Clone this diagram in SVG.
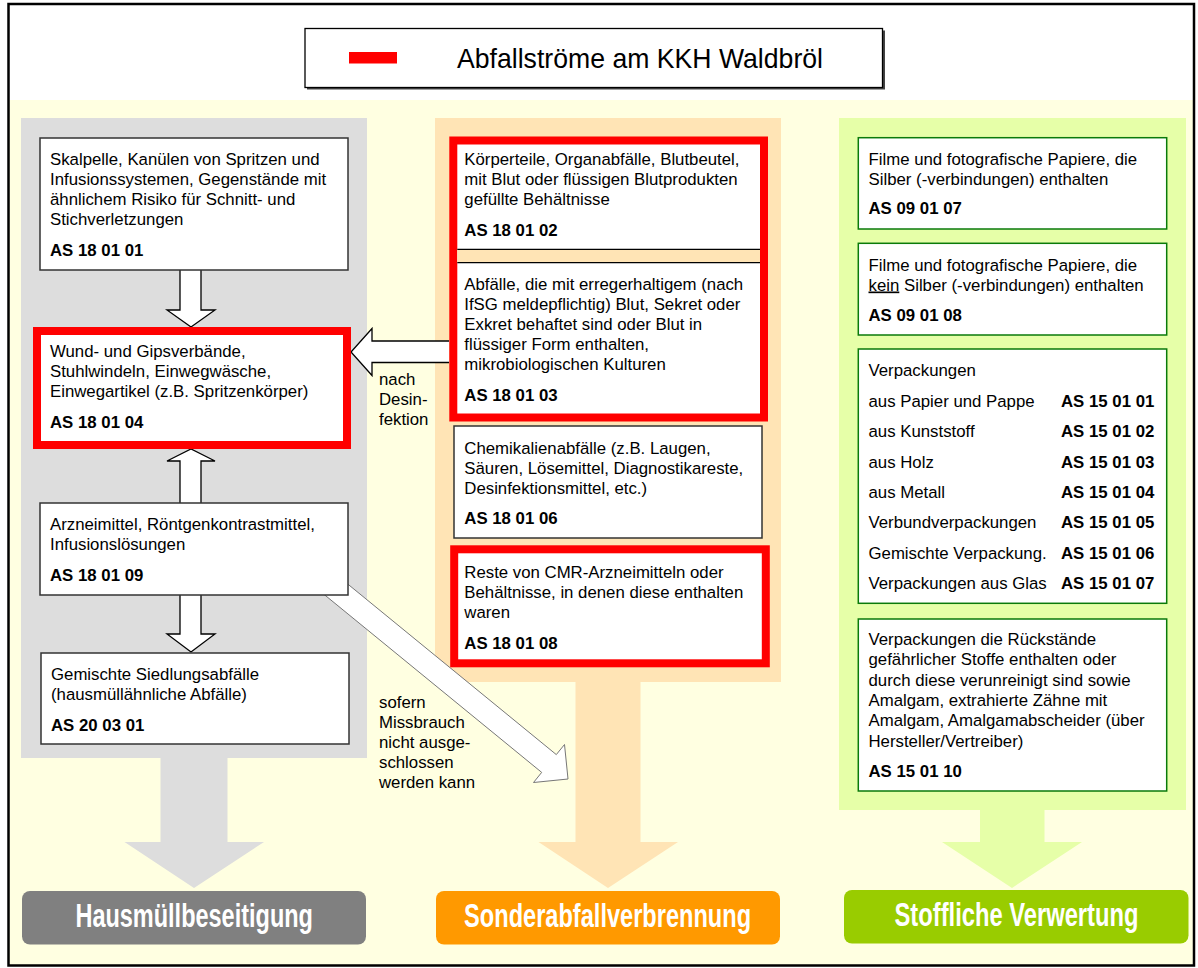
<svg xmlns="http://www.w3.org/2000/svg" width="1198" height="968" viewBox="0 0 1198 968">
<style>
.t{font-family:"Liberation Sans",Arial,sans-serif;font-size:16.8px;fill:#000}
.b{font-weight:bold}
.box{fill:#fff;stroke:#333;stroke-width:1.5}
.red{fill:#fff;stroke:#f00;stroke-width:8}
.gbox{fill:#fff;stroke:#0a7a0a;stroke-width:1.5}
.blk{fill:#fff;stroke:#000;stroke-width:1.3;stroke-linejoin:miter}
.btn{font-family:"Liberation Sans",Arial,sans-serif;font-size:33px;font-weight:bold;fill:#fff}
</style>
<rect x="0" y="0" width="1198" height="968" fill="#fff"/>
<g id="background">
<rect x="8.5" y="100" width="1185.5" height="865" fill="#FFFFE1"/>
<rect x="8.5" y="4" width="1185.5" height="961.5" fill="none" stroke="#000" stroke-width="2.5"/>
</g>
<g id="title">
<rect x="307" y="30.5" width="578" height="59" fill="#444"/>
<rect x="305" y="28.5" width="577.5" height="59" fill="#fff" stroke="#000" stroke-width="1.3"/>
<rect x="349" y="52" width="48" height="11.5" fill="#f00"/>
<text x="457" y="68" font-family="Liberation Sans,Arial,sans-serif" font-size="27.5" textLength="366" lengthAdjust="spacingAndGlyphs">Abfallströme am KKH Waldbröl</text>
</g>
<g id="panels">
<rect x="21" y="118" width="346" height="640" fill="#DDDDDD"/>
<path d="M160.5,758 H227.5 V842 H264 L194,888 L124.5,842 H160.5 Z" fill="#DDDDDD"/>
<rect x="435" y="118" width="346" height="564" fill="#FFE4B5"/>
<path d="M575.5,682 H640.5 V842 H678 L608,888 L538.5,842 H575.5 Z" fill="#FFE4B5"/>
<rect x="839" y="118" width="347" height="692" fill="#E6FFA8"/>
<path d="M980,810 H1044.5 V842 H1082 L1012,888 L942,842 H980 Z" fill="#E6FFA8"/>
</g>
<g id="btn-hausmuell">
<rect x="22" y="891" width="344" height="53.5" rx="8" fill="#808080"/>
<text class="btn" x="194.2" y="926.5" text-anchor="middle" textLength="237.5" lengthAdjust="spacingAndGlyphs">Hausmüllbeseitigung</text>
</g>
<g id="btn-sonder">
<rect x="436" y="891" width="344" height="53.5" rx="8" fill="#FF9900"/>
<text class="btn" x="607.6" y="926.5" text-anchor="middle" textLength="287" lengthAdjust="spacingAndGlyphs">Sonderabfallverbrennung</text>
</g>
<g id="btn-stofflich">
<rect x="844" y="890" width="344.5" height="53.5" rx="8" fill="#99CC00"/>
<text class="btn" x="1016.5" y="925.5" text-anchor="middle" textLength="244" lengthAdjust="spacingAndGlyphs">Stoffliche Verwertung</text>
</g>
<g id="connectors">
<path class="blk" d="M180,270 V310 H167 L191,327 L215,310 H201 V270"/>
<path class="blk" d="M180,503 V461 H167 L191,449 L215,461 H201 V503"/>
<path class="blk" d="M180,595 V634 H167 L191,652 L215,634 H201 V595"/>
<path class="blk" d="M449,341 H372 V328.5 L351,352 L372,375.5 V362.5 H449"/>
<path d="M331.8,571 L556.3,754.6 L564.5,744.5 L568,779 L533.5,782.5 L541.7,772.4 L317.2,588.8 Z" fill="#fff" stroke="#777" stroke-width="1"/>
<text class="t" x="379" y="385">nach</text>
<text class="t" x="379" y="405">Desin-</text>
<text class="t" x="379" y="425">fektion</text>
<text class="t" x="379" y="708.3">sofern</text>
<text class="t" x="379" y="728.3">Missbrauch</text>
<text class="t" x="379" y="748.3">nicht ausge-</text>
<text class="t" x="379" y="768.3">schlossen</text>
<text class="t" x="379" y="788.3">werden kann</text>
</g>
<g id="as180101">
<rect class="box" x="40" y="138" width="308" height="132"/>
<text class="t" x="50" y="165">Skalpelle, Kanülen von Spritzen und</text>
<text class="t" x="50" y="185">Infusionssystemen, Gegenstände mit</text>
<text class="t" x="50" y="205">ähnlichem Risiko für Schnitt- und</text>
<text class="t" x="50" y="225">Stichverletzungen</text>
<text class="t b" x="50" y="255.7">AS 18 01 01</text>
</g>
<g id="as180104">
<rect class="red" x="37" y="331" width="310" height="114"/>
<text class="t" x="50" y="356.7">Wund- und Gipsverbände,</text>
<text class="t" x="50" y="376.7">Stuhlwindeln, Einwegwäsche,</text>
<text class="t" x="50" y="396.7">Einwegartikel (z.B. Spritzenkörper)</text>
<text class="t b" x="50" y="427.7">AS 18 01 04</text>
</g>
<g id="as180109">
<rect class="box" x="40" y="503" width="308" height="92"/>
<text class="t" x="50" y="530">Arzneimittel, Röntgenkontrastmittel,</text>
<text class="t" x="50" y="550">Infusionslösungen</text>
<text class="t b" x="50" y="580.7">AS 18 01 09</text>
</g>
<g id="as200301">
<rect class="box" x="41" y="653" width="308" height="91"/>
<text class="t" x="51" y="680">Gemischte Siedlungsabfälle</text>
<text class="t" x="51" y="700">(hausmüllähnliche Abfälle)</text>
<text class="t b" x="51" y="731">AS 20 03 01</text>
</g>
<g id="as180102-03">
<rect class="red" x="453.3" y="140.5" width="310.7" height="277"/>
<rect x="457.3" y="249.3" width="302.7" height="13.4" fill="#FFE4B5"/>
<line x1="457.3" y1="249.3" x2="760" y2="249.3" stroke="#000" stroke-width="1.3"/>
<line x1="457.3" y1="262.7" x2="760" y2="262.7" stroke="#000" stroke-width="1.3"/>
<text class="t" x="464.3" y="165">Körperteile, Organabfälle, Blutbeutel,</text>
<text class="t" x="464.3" y="185">mit Blut oder flüssigen Blutprodukten</text>
<text class="t" x="464.3" y="205">gefüllte Behältnisse</text>
<text class="t b" x="464.3" y="236">AS 18 01 02</text>
<text class="t" x="464.3" y="290">Abfälle, die mit erregerhaltigem (nach</text>
<text class="t" x="464.3" y="310">IfSG meldepflichtig) Blut, Sekret oder</text>
<text class="t" x="464.3" y="330">Exkret behaftet sind oder Blut in</text>
<text class="t" x="464.3" y="350">flüssiger Form enthalten,</text>
<text class="t" x="464.3" y="370">mikrobiologischen Kulturen</text>
<text class="t b" x="464.3" y="401">AS 18 01 03</text>
</g>
<g id="as180106">
<rect class="box" x="454" y="426" width="308" height="112"/>
<text class="t" x="464.3" y="453.5">Chemikalienabfälle (z.B. Laugen,</text>
<text class="t" x="464.3" y="473.5">Säuren, Lösemittel, Diagnostikareste,</text>
<text class="t" x="464.3" y="493.5">Desinfektionsmittel, etc.)</text>
<text class="t b" x="464.3" y="524">AS 18 01 06</text>
</g>
<g id="as180108">
<rect class="red" x="454.2" y="549.3" width="311.6" height="114"/>
<text class="t" x="464.3" y="578.3">Reste von CMR-Arzneimitteln oder</text>
<text class="t" x="464.3" y="598.3">Behältnisse, in denen diese enthalten</text>
<text class="t" x="464.3" y="618.3">waren</text>
<text class="t b" x="464.3" y="649.3">AS 18 01 08</text>
</g>
<g id="as090107">
<rect class="gbox" x="858.3" y="137.7" width="308.4" height="91.3"/>
<text class="t" x="868.5" y="165">Filme und fotografische Papiere, die</text>
<text class="t" x="868.5" y="185">Silber (-verbindungen) enthalten</text>
<text class="t b" x="868.5" y="214.3">AS 09 01 07</text>
</g>
<g id="as090108">
<rect class="gbox" x="858.3" y="243.3" width="308.4" height="91.7"/>
<text class="t" x="868.5" y="270.5">Filme und fotografische Papiere, die</text>
<text class="t" x="868.5" y="290.5"><tspan text-decoration="underline">kein</tspan> Silber (-verbindungen) enthalten</text>
<text class="t b" x="868.5" y="320.7">AS 09 01 08</text>
</g>
<g id="as1501">
<rect class="gbox" x="858.3" y="349" width="308.4" height="254.3"/>
<text class="t" x="868.5" y="375.5">Verpackungen</text>
<text class="t" x="868.5" y="406.5">aus Papier und Pappe</text>
<text class="t b" x="1061" y="406.5">AS 15 01 01</text>
<text class="t" x="868.5" y="436.7">aus Kunststoff</text>
<text class="t b" x="1061" y="436.7">AS 15 01 02</text>
<text class="t" x="868.5" y="467.5">aus Holz</text>
<text class="t b" x="1061" y="467.5">AS 15 01 03</text>
<text class="t" x="868.5" y="498">aus Metall</text>
<text class="t b" x="1061" y="498">AS 15 01 04</text>
<text class="t" x="868.5" y="528.3">Verbundverpackungen</text>
<text class="t b" x="1061" y="528.3">AS 15 01 05</text>
<text class="t" x="868.5" y="558.8">Gemischte Verpackung.</text>
<text class="t b" x="1061" y="558.8">AS 15 01 06</text>
<text class="t" x="868.5" y="589.3">Verpackungen aus Glas</text>
<text class="t b" x="1061" y="589.3">AS 15 01 07</text>
</g>
<g id="as150110">
<rect class="gbox" x="858.3" y="619" width="308.4" height="172"/>
<text class="t" x="868.5" y="644.5">Verpackungen die Rückstände</text>
<text class="t" x="868.5" y="665">gefährlicher Stoffe enthalten oder</text>
<text class="t" x="868.5" y="685.5">durch diese verunreinigt sind sowie</text>
<text class="t" x="868.5" y="706">Amalgam, extrahierte Zähne mit</text>
<text class="t" x="868.5" y="726.3">Amalgam, Amalgamabscheider (über</text>
<text class="t" x="868.5" y="746.5">Hersteller/Vertreiber)</text>
<text class="t b" x="868.5" y="777.3">AS 15 01 10</text>
</g>
</svg>
